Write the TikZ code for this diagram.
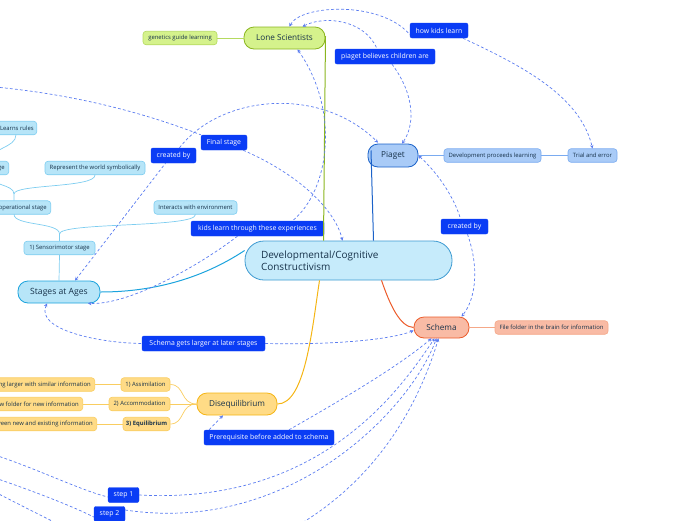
\documentclass[tikz,border=0pt]{standalone}
\usepackage{fontspec}
\setmainfont{Open Sans}
\usetikzlibrary{arrows.meta}
\definecolor{cenfill}{HTML}{C6EBFB}\definecolor{cenline}{HTML}{3D9AD1}
\definecolor{grfill}{HTML}{D5F28C}\definecolor{grline}{HTML}{8AB51E}\definecolor{grsub}{HTML}{B5DA60}
\definecolor{pifill}{HTML}{A9CBF7}\definecolor{piline}{HTML}{1B62C9}\definecolor{pisub}{HTML}{7AABF0}
\definecolor{scfill}{HTML}{F9BBA5}\definecolor{scline}{HTML}{EC5C2B}\definecolor{scsub}{HTML}{F5A888}
\definecolor{difill}{HTML}{FFDB86}\definecolor{diline}{HTML}{F5B514}\definecolor{disub}{HTML}{F9CD60}
\definecolor{stfill}{HTML}{B7E5F8}\definecolor{stline}{HTML}{1BA3DD}\definecolor{stsub}{HTML}{7DCDF0}
\definecolor{lblfill}{HTML}{0A3CF5}\definecolor{dash}{HTML}{5B7CF0}
\definecolor{txt}{HTML}{17324A}
\tikzset{
  mainnode/.style={draw, line width=0.8pt, rounded corners=10pt, minimum height=22pt, inner sep=1pt, font=\fontsize{8.2}{9}\selectfont, text=txt},
  subnode/.style={draw, line width=0.6pt, rounded corners=3pt, minimum height=13.5pt, inner sep=1.5pt, font=\fontsize{5.9}{6.5}\selectfont, text=txt},
  lbl/.style={fill=lblfill, draw=lblfill, rounded corners=2pt, minimum height=15pt, inner sep=1pt, font=\fontsize{6.9}{7.5}\selectfont, text=white},
  dl/.style={draw=dash, dashed, dash pattern=on 2.8pt off 2.2pt, line width=0.7pt},
  ar/.style={-{Stealth[length=3.5pt,width=3.5pt]}},
  ra/.style={{Stealth[length=3.5pt,width=3.5pt]}-},
}
\begin{document}
\begin{tikzpicture}[x=1pt,y=-1pt]
\useasboundingbox (0,0) rectangle (696,520);
\clip (0,0) rectangle (696,520);
% ---------- nodes ----------
\node[draw=cenline, fill=cenfill, line width=0.8pt, rounded corners=19pt, minimum height=39pt, text width=175pt, inner xsep=16pt, align=left, font=\fontsize{10}{12.5}\selectfont, text=txt] (cen) at (348.5,260.5) {Developmental/Cognitive\\Constructivism};

\node[mainnode, draw=grline, fill=grfill, minimum width=81pt] (ls) at (284.5,38) {Lone Scientists};
\node[subnode, draw=grsub, fill=grfill, minimum width=74pt] (gen) at (180,38) {genetics guide learning};

\node[mainnode, draw=piline, fill=pifill, minimum width=50pt, minimum height=23pt] (pia) at (393,155.5) {Piaget};
\node[subnode, draw=pisub, fill=pifill, minimum width=97pt] (dev) at (492.5,155.5) {Development proceeds learning};
\node[subnode, draw=pisub, fill=pifill, minimum width=49pt] (tri) at (592.5,155.5) {Trial and error};

\node[mainnode, draw=scline, fill=scfill, minimum width=55pt, minimum height=21pt] (sch) at (441.5,327.5) {Schema};
\node[subnode, draw=scsub, fill=scfill, minimum width=113pt] (ff) at (551.5,327.5) {File folder in the brain for information};

\node[mainnode, draw=diline, fill=difill, minimum width=80pt] (dis) at (237,404) {Disequilibrium};
\node[subnode, draw=disub, fill=difill, minimum width=49pt] (as) at (145.5,384.5) {1) Assimilation};
\node[subnode, draw=disub, fill=difill, minimum width=61pt] (ac) at (139.5,404) {2) Accommodation};
\node[subnode, draw=disub, fill=difill, minimum width=47pt, font=\fontsize{5.9}{6.5}\selectfont\bfseries] (eq) at (146.5,424) {3) Equilibrium};
\node[subnode, draw=disub, fill=difill, anchor=east, inner xsep=4pt] (asl) at (95,384.5) {Schema getting larger with similar information};
\node[subnode, draw=disub, fill=difill, anchor=east, inner xsep=4pt] (acl) at (83,404) {Create a new folder for new information};
\node[subnode, draw=disub, fill=difill, anchor=east, inner xsep=4pt] (eql) at (97,424) {Balance between new and existing information};

\node[mainnode, draw=stline, fill=stfill, minimum width=82pt, font=\fontsize{8.6}{9.5}\selectfont] (sta) at (59,292) {Stages at Ages};
\node[subnode, draw=stsub, fill=stfill, minimum width=71pt] (sen) at (59.5,248) {1) Sensorimotor stage};
\node[subnode, draw=stsub, fill=stfill, minimum width=83pt] (int) at (195.5,207.5) {Interacts with environment};
\node[subnode, draw=stsub, fill=stfill, anchor=east, inner xsep=4pt] (pre) at (51,207.5) {2) Preoperational stage};
\node[subnode, draw=stsub, fill=stfill, minimum width=100pt] (rep) at (95,168) {Represent the world symbolically};
\node[subnode, draw=stsub, fill=stfill, anchor=east, inner xsep=4pt] (con) at (9,168) {3) Concrete operational stage};
\node[subnode, draw=stsub, fill=stfill, anchor=east, inner xsep=3pt] (lea) at (37,128) {Learns rules};

\node[lbl, minimum width=58pt] (hkl) at (439,30.5) {how kids learn};
\node[lbl, minimum width=100pt] (pbc) at (385,56.5) {piaget believes children are};
\node[lbl, minimum width=46pt] (fin) at (224,142.5) {Final stage};
\node[lbl, minimum width=45pt] (cbl) at (173.5,155.5) {created by};
\node[lbl, minimum width=133pt] (klt) at (257.5,228.5) {kids learn through these experiences};
\node[lbl, minimum width=47pt] (cbr) at (464.5,226.5) {created by};
\node[lbl, minimum width=123pt] (sgl) at (203.5,343.5) {Schema gets larger at later stages};
\node[lbl, minimum width=130pt] (prq) at (269,437.5) {Prerequisite before added to schema};
\node[lbl, minimum width=31pt] (s1) at (123.5,495) {step 1};
\node[lbl, minimum width=31pt] (s2) at (109.5,514) {step 2};

% off-canvas ends
\coordinate (offa) at (-5,87);
\coordinate (offb) at (-5,455);
\coordinate (offc) at (-5,478);
\coordinate (offd) at (-5,492);
\coordinate (offe) at (70,530);
\coordinate (offf) at (290,530);

% ---------- tree branches ----------
\draw[grline, line width=1pt] ([xshift=41pt,yshift=2pt]ls.center) -- ([xshift=-25pt]cen.north);
\draw[grsub, line width=0.8pt] (gen.east) -- (ls.west);
\draw[piline, line width=1pt] ([xshift=-22pt,yshift=5pt]pia.center) -- ([xshift=25pt]cen.north);
\draw[pisub, line width=0.8pt] (pia.east) -- (dev.west) (dev.east) -- (tri.west);
\draw[scline, line width=1pt] ([xshift=33pt]cen.south) .. controls (390,305) and (400,327) .. (sch.west);
\draw[scsub, line width=0.8pt] (sch.east) -- (ff.west);
\draw[diline, line width=1pt] ([xshift=-29pt]cen.south) .. controls (312,330) and (305,404) .. (dis.east);
\draw[disub, line width=0.7pt] (dis.west) .. controls (180,404) and (185,384.5) .. (as.east);
\draw[disub, line width=0.7pt] (dis.west) -- (ac.east);
\draw[disub, line width=0.7pt] (dis.west) .. controls (180,404) and (185,424) .. (eq.east);
\draw[disub, line width=0.7pt] (as.west) -- (asl.east) (ac.west) -- (acl.east) (eq.west) -- (eql.east);
\draw[stline, line width=1pt] (sta.east) .. controls (150,292) and (200,280) .. ([yshift=10pt]cen.west);
\draw[stsub, line width=0.7pt] (sta.north) -- (sen.south);
\draw[stsub, line width=0.7pt] (sen.north) -- (59.5,234) .. controls (59.5,222) and (14,226) .. (14,214.3);
\draw[stsub, line width=0.7pt] (59.5,234) .. controls (59.5,222) and (195.5,228) .. (int.south);
\draw[stsub, line width=0.7pt] (14,200.7) -- (14,194) .. controls (14,184) and (95,188) .. (rep.south);
\draw[stsub, line width=0.7pt] (14,194) .. controls (14,184) and (-10,186) .. (-10,175);
\draw[stsub, line width=0.7pt] (-10,161) .. controls (-10,148) and (16,148) .. (16,134.8);

% ---------- dashed relations ----------
\draw[dl, ra] ([xshift=5pt]ls.north) .. controls (300,5) and (380,0) .. ([yshift=-4pt]hkl.west);
\draw[dl, ar] ([xshift=24pt]hkl.south) .. controls (520,65) and (580,95) .. (tri.north);
\draw[dl, ra] ([xshift=18pt]ls.north) .. controls (325,15) and (365,20) .. ([xshift=-8pt]pbc.north);
\draw[dl, ar] ([xshift=7pt]pbc.south) .. controls (415,95) and (415,125) .. ([xshift=9pt]pia.north);
\draw[dl] (offa) .. controls (80,95) and (150,115) .. (fin.north west);
\draw[dl, ar] ([xshift=-4pt]fin.south east) .. controls (300,175) and (335,210) .. ([xshift=-6pt]cen.north);
\draw[dl, ra] ([xshift=16pt]sta.north) -- ([xshift=-8pt]cbl.south);
\draw[dl, ar] ([xshift=6pt]cbl.north) .. controls (220,95) and (320,85) .. ([xshift=-15pt,yshift=1pt]pia.north);
\draw[dl, ra] ([xshift=13pt]ls.south) .. controls (340,110) and (330,190) .. ([xshift=35pt]klt.north);
\draw[dl, ar] ([xshift=-20pt]klt.south) .. controls (200,265) and (130,305) .. ([xshift=29pt]sta.south);
\draw[dl, ra] (pia.east) .. controls (440,175) and (455,200) .. ([xshift=-4pt]cbr.north);
\draw[dl, ar] ([xshift=3pt]cbr.south) .. controls (480,270) and (475,300) .. ([xshift=20pt]sch.north);
\draw[dl, ra] ([xshift=-12pt]sta.south) .. controls (35,330) and (100,343) .. (sgl.west);
\draw[dl, ar] (sgl.east) .. controls (330,345) and (390,340) .. ([yshift=-3pt]sch.west);
\draw[dl, ra] ([xshift=-14pt]dis.south) -- ([xshift=-60pt]prq.north);
\draw[dl, ar] ([xshift=20pt]prq.north) .. controls (350,395) and (400,365) .. ([xshift=-10pt]sch.south);
\draw[dl] (offb) .. controls (40,470) and (80,490) .. ([yshift=-2pt]s1.west);
\draw[dl, ar] (s1.east) .. controls (320,505) and (400,390) .. ([xshift=-7pt]sch.south);
\draw[dl] (offc) .. controls (30,490) and (70,505) .. ([yshift=-3pt]s2.west);
\draw[dl, ar] ([yshift=4pt]s2.east) .. controls (290,535) and (410,410) .. ([xshift=-5pt]sch.south);
\draw[dl] (offd) .. controls (20,505) and (50,520) .. (offe);
\draw[dl, ar] (offf) .. controls (380,480) and (420,400) .. ([xshift=-3pt]sch.south);
\end{tikzpicture}
\end{document}
